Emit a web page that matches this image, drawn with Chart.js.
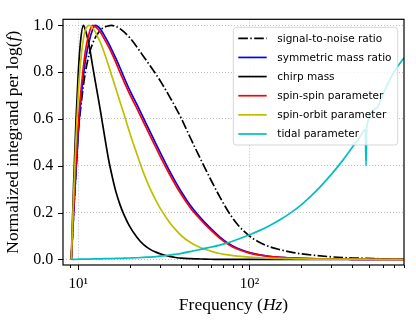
<!DOCTYPE html>
<html>
<head>
<meta charset="utf-8">
<script src="https://cdn.jsdelivr.net/npm/chart.js@4.4.1/dist/chart.umd.min.js"></script>
<style>
  body { margin: 0; background: white; }
  canvas { display: block; }
</style>
</head>
<body>
<canvas id="myChart" width="416" height="320"></canvas>
<script>
// frequencies (Hz) shared by every curve
const freqHz = [9.1, 9.4, 9.7, 10, 10.3, 10.7, 11, 11.6, 12.1, 12.5, 13, 13.5, 14, 15, 15.6, 16.5, 17.5, 18.5, 20, 22,
    24, 26, 28.6, 31, 34, 37, 40, 45, 50, 55, 60, 67, 75, 85, 100, 115, 130, 150, 175, 200,
    250, 300, 350, 400, 450, 475, 480, 485, 550, 620, 700, 800]

const snr = [0, 0.2, 0.38, 0.55, 0.64, 0.74, 0.8, 0.88, 0.92, 0.945, 0.965, 0.98, 0.99, 0.998, 1.0, 0.996, 0.986, 0.972, 0.947, 0.908,
    0.868, 0.832, 0.788, 0.748, 0.698, 0.65, 0.602, 0.522, 0.452, 0.39, 0.335, 0.268, 0.206, 0.15, 0.1, 0.072, 0.055, 0.042, 0.031, 0.024,
    0.016, 0.011, 0.008, 0.006, 0.005, 0.004, 0.004, 0.004, 0.003, 0.002, 0.002, 0.001]

const symMassRatio = [0, 0.2, 0.38, 0.54, 0.66, 0.78, 0.85, 0.935, 0.98, 1.0, 0.995, 0.983, 0.965, 0.925, 0.9, 0.862, 0.82, 0.778, 0.722, 0.662,
    0.605, 0.552, 0.49, 0.438, 0.38, 0.331, 0.289, 0.232, 0.19, 0.157, 0.129, 0.096, 0.069, 0.047, 0.029, 0.019, 0.013, 0.009, 0.006, 0.004,
    0.002, 0.001, 0.001, 0, 0, 0, 0, 0, 0, 0, 0, 0]

const chirpMass = [0, 0.33, 0.6, 0.8, 0.93, 1.0, 0.98, 0.91, 0.83, 0.77, 0.7, 0.63, 0.56, 0.43, 0.37, 0.295, 0.235, 0.19, 0.14, 0.095,
    0.064, 0.045, 0.03, 0.021, 0.013, 0.008, 0.005, 0.003, 0.002, 0.001, 0.0005, 0, 0, 0, 0, 0, 0, 0, 0, 0,
    0, 0, 0, 0, 0, 0, 0, 0, 0, 0, 0, 0]

const spinSpin = [0, 0.22, 0.42, 0.58, 0.7, 0.82, 0.89, 0.97, 1.0, 0.995, 0.985, 0.97, 0.95, 0.91, 0.885, 0.845, 0.8, 0.76, 0.705, 0.645,
    0.588, 0.535, 0.474, 0.422, 0.366, 0.318, 0.277, 0.222, 0.182, 0.15, 0.123, 0.091, 0.065, 0.044, 0.027, 0.018, 0.013, 0.009, 0.006, 0.004,
    0.002, 0.001, 0.001, 0, 0, 0, 0, 0, 0, 0, 0, 0]

const spinOrbit = [0, 0.28, 0.52, 0.71, 0.84, 0.94, 0.98, 1.0, 0.99, 0.975, 0.95, 0.925, 0.895, 0.83, 0.79, 0.735, 0.675, 0.62, 0.54, 0.45,
    0.372, 0.31, 0.248, 0.203, 0.16, 0.127, 0.101, 0.073, 0.055, 0.043, 0.034, 0.025, 0.019, 0.014, 0.01, 0.007, 0.005, 0.004, 0.003, 0.002,
    0.001, 0.001, 0.001, 0.001, 0.001, 0.001, 0.001, 0.001, 0, 0, 0, 0]

const tidal = [0, 0, 0, 0.001, 0.001, 0.001, 0.001, 0.001, 0.002, 0.002, 0.002, 0.002, 0.003, 0.003, 0.003, 0.004, 0.004, 0.005, 0.006, 0.007,
    0.009, 0.01, 0.012, 0.015, 0.018, 0.022, 0.026, 0.033, 0.04, 0.047, 0.053, 0.061, 0.071, 0.085, 0.105, 0.124, 0.143, 0.168, 0.2, 0.232,
    0.298, 0.362, 0.422, 0.48, 0.532, 0.556, 0.4, 0.564, 0.645, 0.725, 0.802, 0.862]

const yTickValues = [0, 0.2, 0.4, 0.6, 0.8, 1.0]
const xMajorTicks = [10, 100]
const xMinorTicks = [9, 20, 30, 40, 50, 60, 70, 80, 90, 200, 300, 400, 500, 600, 700, 800]

const SERIF = '"Liberation Serif", serif'
const SANS = '"DejaVu Sans", sans-serif'

const pts = vals => freqHz.map((f, i) => ({ x: f, y: vals[i] }))

// legend order as in the figure
const series = [
    { label: 'signal-to-noise ratio', data: snr, color: '#000000', dash: [9.6, 2.4, 1.5, 2.4] },
    { label: 'symmetric mass ratio', data: symMassRatio, color: '#0000ff', dash: [] },
    { label: 'chirp mass', data: chirpMass, color: '#000000', dash: [] },
    { label: 'spin-spin parameter', data: spinSpin, color: '#ff0000', dash: [] },
    { label: 'spin-orbit parameter', data: spinOrbit, color: '#bfbf00', dash: [] },
    { label: 'tidal parameter', data: tidal, color: '#00bfbf', dash: [] }
]

// draw text made of plain / italic pieces centred on 0
function drawRuns(ctx, runs, size) {
    let total = 0
    runs.forEach(r => {
        ctx.font = (r.it ? 'italic ' : '') + size + 'px ' + SERIF
        r.w = ctx.measureText(r.t).width
        total += r.w
    })
    let x = -total / 2
    runs.forEach(r => {
        ctx.font = (r.it ? 'italic ' : '') + size + 'px ' + SERIF
        ctx.fillText(r.t, x, 0)
        x += r.w
    })
}

const framePlugin = {
    id: 'frame',
    afterDatasetsDraw(chart) {
        const ctx = chart.ctx
        const ca = chart.chartArea
        const bx = ca.right - 170.7, by = ca.top + 8, bw = 164.4, bh = 117.7
        ctx.save()
        ctx.beginPath()
        ctx.roundRect(bx, by, bw, bh, 3)
        ctx.fillStyle = 'rgba(255,255,255,0.8)'
        ctx.fill()
        ctx.strokeStyle = 'rgba(204,204,204,0.8)'
        ctx.lineWidth = 1
        ctx.stroke()
        ctx.font = '10.5px ' + SANS
        ctx.textBaseline = 'middle'
        series.forEach((s, i) => {
            const y = by + 11 + i * 19.14
            ctx.beginPath()
            ctx.setLineDash(s.dash)
            ctx.strokeStyle = s.color
            ctx.lineWidth = 1.7
            ctx.moveTo(bx + 5, y)
            ctx.lineTo(bx + 33.4, y)
            ctx.stroke()
            ctx.setLineDash([])
            ctx.fillStyle = '#000'
            ctx.fillText(s.label, bx + 44, y + 0.5)
        })
        ctx.restore()
    },
    afterDraw(chart) {
        const ctx = chart.ctx
        const ca = chart.chartArea
        const xs = chart.scales.x, ys = chart.scales.y
        ctx.save()
        ctx.strokeStyle = '#000'
        ctx.lineWidth = 1.2
        ctx.strokeRect(ca.left, ca.top, ca.right - ca.left, ca.bottom - ca.top)
        ctx.lineWidth = 1
        ctx.beginPath()
        yTickValues.forEach(v => {
            const y = Math.round(ys.getPixelForValue(v)) + 0.5
            ctx.moveTo(ca.left, y); ctx.lineTo(ca.left - 5, y)
        })
        xMajorTicks.forEach(v => {
            const x = Math.round(xs.getPixelForValue(v)) + 0.5
            ctx.moveTo(x, ca.bottom); ctx.lineTo(x, ca.bottom + 5)
        })
        xMinorTicks.forEach(v => {
            const x = Math.round(xs.getPixelForValue(v)) + 0.5
            ctx.moveTo(x, ca.bottom); ctx.lineTo(x, ca.bottom + 3)
        })
        ctx.stroke()

        ctx.fillStyle = '#000'
        ctx.textBaseline = 'middle'
        ctx.textAlign = 'left'
        ctx.save()
        ctx.translate(13.5, (ca.top + ca.bottom) / 2)
        ctx.rotate(-Math.PI / 2)
        drawRuns(ctx, [{ t: 'Normalized integrand per log(' }, { t: 'f', it: true }, { t: ')' }], 17.5)
        ctx.restore()
        ctx.save()
        ctx.translate((ca.left + ca.right) / 2, 305)
        drawRuns(ctx, [{ t: 'Frequency (' }, { t: 'Hz', it: true }, { t: ')' }], 17.5)
        ctx.restore()
        ctx.restore()
    }
}

const gridStyle = {
    color: '#b0b0b0',
    lineWidth: 0.8,
    drawTicks: false
}

new Chart(document.getElementById('myChart'), {
    type: 'line',
    data: {
        datasets: series.slice().reverse().map(s => ({
            label: s.label,
            data: pts(s.data),
            borderColor: s.color,
            borderDash: s.dash,
            borderWidth: 1.7,
            pointRadius: 0,
            fill: false,
            cubicInterpolationMode: 'monotone'
        }))
    },
    options: {
        responsive: false,
        animation: false,
        layout: { padding: { left: 0, right: 12, top: 11, bottom: 0 } },
        plugins: { legend: { display: false }, tooltip: { enabled: false } },
        scales: {
            x: {
                type: 'logarithmic',
                min: 8.14,
                max: 800,
                grid: gridStyle,
                border: { display: false, dash: [1, 2] },
                afterBuildTicks: s => { s.ticks = xMajorTicks.map(v => ({ value: v })) },
                afterFit: s => { s.height = 55 },
                ticks: {
                    color: '#000',
                    padding: 10,
                    maxRotation: 0,
                    autoSkip: false,
                    font: { family: SERIF, size: 15 },
                    callback: v => v === 10 ? '10¹' : (v === 100 ? '10²' : '')
                }
            },
            y: {
                min: -0.024,
                max: 1.026,
                grid: gridStyle,
                border: { display: false, dash: [1, 2] },
                afterBuildTicks: s => { s.ticks = yTickValues.map(v => ({ value: v })) },
                afterFit: s => { s.width = 63 },
                ticks: {
                    color: '#000',
                    padding: 9.7,
                    font: { family: SERIF, size: 16 },
                    callback: v => v.toFixed(1)
                }
            }
        }
    },
    plugins: [framePlugin]
})
</script>
</body>
</html>
